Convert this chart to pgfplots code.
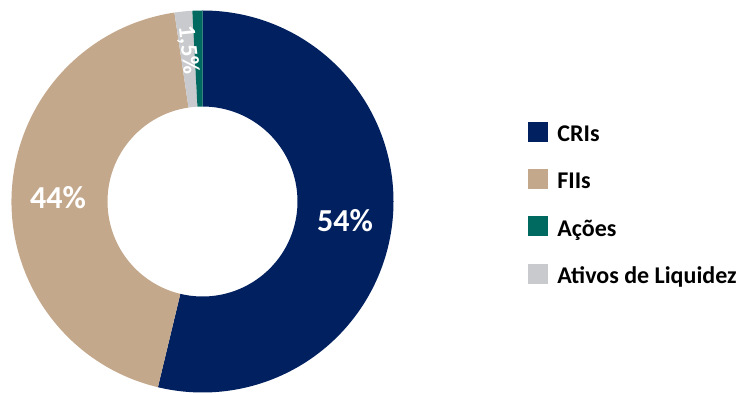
\documentclass[border=0pt]{standalone}
\usepackage{fontspec}
\setmainfont{Carlito}
\usepackage{pgfplots}
\pgfplotsset{compat=1.18}
\definecolor{cri}{RGB}{0,32,96}
\definecolor{fii}{RGB}{196,168,140}
\definecolor{aco}{RGB}{0,106,96}
\definecolor{liq}{RGB}{200,202,205}
% slice values (%), clockwise from the top
\def\vCRI{53.75}
\def\vFII{43.9}
\def\vLIQ{1.5}
\def\vACO{0.85}
\pgfmathsetmacro\aA{90}
\pgfmathsetmacro\aB{\aA-3.6*\vCRI}
\pgfmathsetmacro\aC{\aB-3.6*\vFII}
\pgfmathsetmacro\aD{\aC-3.6*\vLIQ}
\pgfmathsetmacro\aE{\aD-3.6*\vACO}
\def\cx{202.5}\def\cy{191.5}\def\R{191}\def\r{95}
\newcommand{\slice}[3]{%
  \fill[#3] ([shift={(#1:\R pt)}]axis cs:\cx,\cy) arc[start angle=#1,end angle=#2,radius=\R pt]
    -- ([shift={(#2:\r pt)}]axis cs:\cx,\cy) arc[start angle=#2,end angle=#1,radius=\r pt] -- cycle;}
\begin{document}
\begin{tikzpicture}
\begin{axis}[x=1pt,y=1pt,xmin=0,xmax=742,ymin=0,ymax=393,hide axis,clip=false,
  scale only axis,
  legend style={at={(axis cs:528,271)},anchor=north west,draw=none,fill=none,
    inner sep=0pt,outer sep=0pt,
    font=\bfseries\fontsize{24}{24}\selectfont,row sep=23pt,column sep=10pt,
    nodes={inner sep=0pt,text height=14.5pt,text depth=4.5pt},
    cells={anchor=west}},
  legend image code/.code={\fill[#1] (0pt,-4.5pt) rectangle (19pt,14.5pt);},
  ]
\addlegendimage{cri}\addlegendentry{CRIs}
\addlegendimage{fii}\addlegendentry{FIIs}
\addlegendimage{aco}\addlegendentry{Ações}
\addlegendimage{liq}\addlegendentry{Ativos de Liquidez}
\slice{\aA}{\aB}{cri}
\slice{\aB}{\aC}{fii}
\slice{\aC}{\aD}{liq}
\slice{\aD}{\aE}{aco}
\node[white,font=\bfseries\fontsize{32}{32}\selectfont] at (axis cs:345,172) {54\%};
\node[white,font=\bfseries\fontsize{32}{32}\selectfont] at (axis cs:58,195.5) {44\%};
\node[white,font=\bfseries\fontsize{24}{24}\selectfont,rotate=-84] at (axis cs:188,343) {1,5\%};
\end{axis}
\pgfresetboundingbox
\path (0,0) rectangle (742pt,393pt);
\end{tikzpicture}
\end{document}
